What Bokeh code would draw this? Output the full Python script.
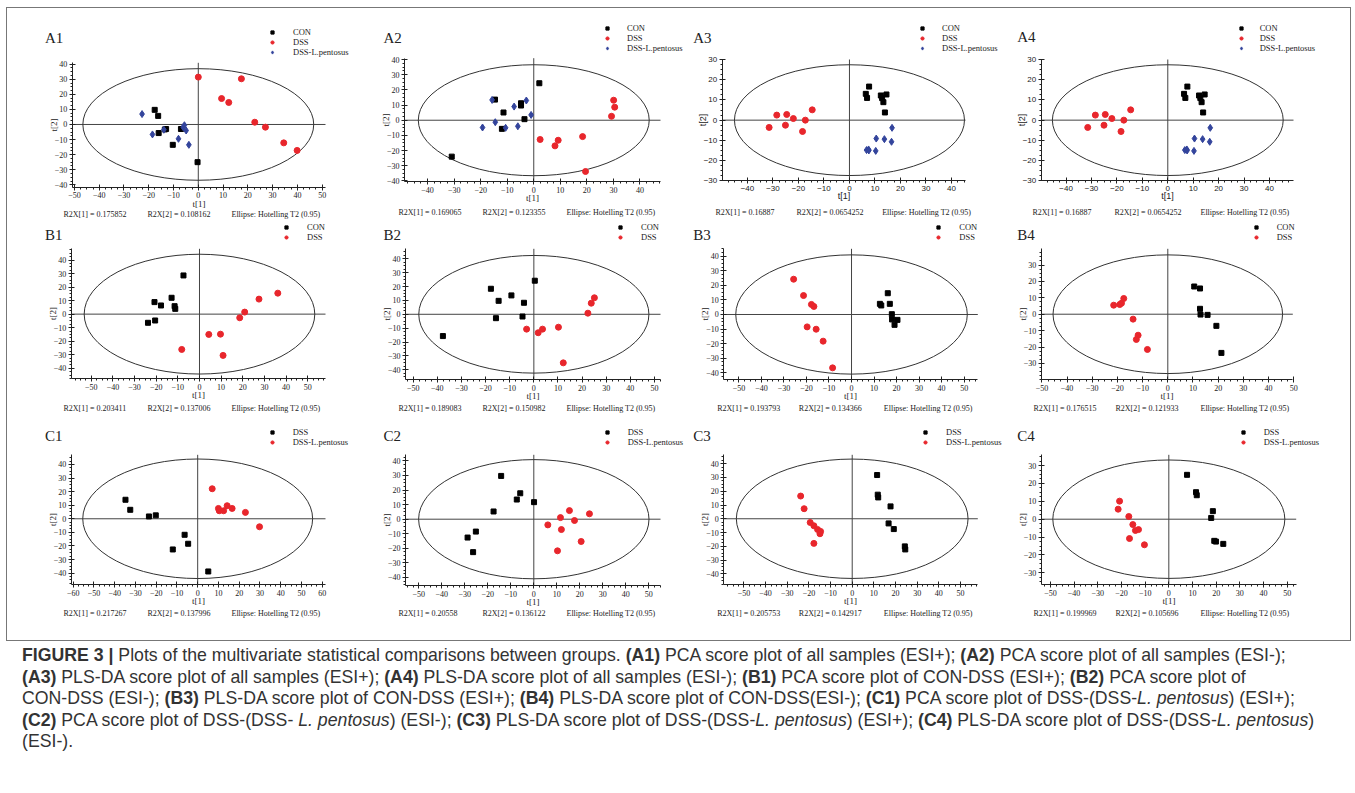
from bokeh.plotting import figure
from bokeh.models import Range1d, FixedTicker, Label, Legend, LegendItem, Div
from bokeh.layouts import row, column
from bokeh.embed import file_html
from bokeh.resources import INLINE

# ---------------- data ----------------
A1_con_x = [-17.6, -16.2, -16.0, -13.5, -13.0, -7.0, -10.3, -0.3]
A1_con_y = [9.7, 5.7, -5.7, -3.3, -3.0, -3.0, -13.5, -25.0]
A1_dss_x = [0.0, 17.4, 9.4, 12.3, 22.8, 27.1, 34.5, 39.9]
A1_dss_y = [31.4, 30.3, 17.2, 14.6, 1.5, -1.8, -12.2, -17.2]
A1_lp_x = [-22.7, -18.5, -13.9, -6.1, -5.6, -4.9, -8.0, -3.8]
A1_lp_y = [6.9, -6.6, -3.5, -1.8, -0.5, -4.0, -9.5, -13.5]

A2_con_x = [2.1, -14.6, -4.8, -4.8, -11.4, -3.5, -12.0, -30.9]
A2_con_y = [24.4, 13.6, 11.2, 9.7, 5.1, 0.7, -5.7, -24.0]
A2_dss_x = [30.1, 30.5, 29.3, 2.4, 9.2, 8.0, 18.4, 19.5]
A2_dss_y = [13.2, 8.6, 2.6, -12.7, -13.2, -16.9, -10.8, -33.8]
A2_lp_x = [-15.7, -2.8, -7.4, -1.0, -14.5, -19.3, -10.6, -6.0]
A2_lp_y = [13.4, 13.0, 9.0, 3.5, -1.3, -4.8, -5.0, -4.0]

A3_con_x = [6.4, 6.9, 7.7, 12.3, 12.8, 13.3, 14.5, 13.9]
A3_con_y = [13.0, 11.0, 16.6, 12.2, 10.9, 8.9, 12.7, 3.8]
A3_dss_x = [-31.5, -28.5, -24.6, -25.1, -22.0, -18.4, -17.3, -14.6]
A3_dss_y = [-3.6, 2.5, 2.8, -2.5, 0.8, -5.6, 0.0, 5.1]
A3_lp_x = [16.7, 10.5, 13.7, 16.5, 6.7, 7.5, 7.6, 10.3]
A3_lp_y = [-3.8, -9.1, -9.4, -10.7, -14.8, -14.5, -15.0, -15.2]

A4_con_x = [6.4, 6.9, 7.7, 12.3, 12.8, 13.3, 14.5, 13.9]
A4_con_y = [13.0, 11.0, 16.6, 12.2, 10.9, 8.9, 12.7, 3.8]
A4_dss_x = [-31.5, -28.5, -24.6, -25.1, -22.0, -18.4, -17.3, -14.6]
A4_dss_y = [-3.6, 2.5, 2.8, -2.5, 0.8, -5.6, 0.0, 5.1]
A4_lp_x = [16.7, 10.5, 13.7, 16.5, 6.7, 7.5, 7.6, 10.3]
A4_lp_y = [-3.8, -9.1, -9.4, -10.7, -14.8, -14.5, -15.0, -15.2]

B1_con_x = [-7.4, -12.9, -20.8, -17.8, -11.5, -11.2, -23.8, -20.5]
B1_con_y = [28.6, 12.1, 8.9, 6.4, 5.9, 3.9, -6.4, -4.7]
B1_dss_x = [36.2, 27.5, 20.9, 18.6, 4.3, 9.7, 10.9, -8.2]
B1_dss_y = [15.5, 11.1, 1.5, -2.7, -15.0, -14.8, -30.5, -26.1]

B2_con_x = [0.4, -17.8, -9.3, -14.6, -4.1, -4.7, -15.7, -37.7]
B2_con_y = [24.2, 18.4, 13.6, 9.7, 8.3, -1.6, -2.8, -15.7]
B2_dss_x = [25.1, 23.8, 22.4, -3.0, 1.8, 3.6, 10.2, 12.2]
B2_dss_y = [11.9, 8.0, 0.8, -10.7, -13.3, -10.7, -9.3, -35.0]

B3_con_x = [16.1, 12.6, 13.2, 17.0, 17.9, 18.0, 20.4, 19.1]
B3_con_y = [14.6, 7.3, 6.2, 7.3, 0.2, -3.4, -3.7, -7.1]
B3_dss_x = [-25.7, -21.3, -17.8, -16.7, -19.7, -15.7, -12.6, -8.4]
B3_dss_y = [24.2, 13.0, 6.9, 5.5, -8.5, -10.1, -18.3, -36.6]

B4_con_x = [10.5, 12.8, 12.8, 13.0, 15.8, 19.3, 21.3]
B4_con_y = [16.9, 15.7, 3.3, -0.2, -0.4, -7.1, -23.6]
B4_dss_x = [-21.5, -19.1, -18.4, -17.5, -13.8, -11.8, -12.5, -8.1]
B4_dss_y = [5.5, 5.9, 6.7, 9.6, -3.0, -12.8, -15.4, -21.5]

C1_dss_x = [-34.8, -32.5, -23.5, -20.2, -6.3, -4.6, -12.0, 5.1]
C1_dss_y = [14.0, 6.6, 1.7, 2.5, -11.8, -18.4, -22.6, -38.8]
C1_lp_x = [7.0, 10.0, 10.4, 12.5, 14.2, 16.6, 23.0, 29.8]
C1_lp_y = [22.1, 7.6, 5.9, 5.9, 9.6, 7.6, 4.7, -5.9]

C2_dss_x = [-14.2, -5.9, -7.4, 0.1, -17.5, -25.2, -28.8, -26.4]
C2_dss_y = [29.7, 17.8, 13.5, 11.7, 5.3, -8.5, -12.6, -22.6]
C2_lp_x = [15.5, 24.2, 11.6, 17.7, 6.1, 12.0, 20.6, 10.3]
C2_lp_y = [5.9, 3.7, 1.1, -0.9, -3.9, -7.1, -15.3, -21.7]

C3_dss_x = [11.5, 11.8, 12.0, 17.7, 16.8, 19.2, 24.3, 24.5]
C3_dss_y = [31.8, 17.5, 15.5, 9.0, -3.4, -7.5, -20.1, -22.3]
C3_lp_x = [-23.8, -22.2, -19.4, -17.7, -16.0, -14.6, -14.9, -17.7]
C3_lp_y = [16.5, 7.3, -2.7, -5.1, -7.8, -9.2, -10.9, -17.9]

C4_dss_x = [7.7, 11.5, 11.8, 18.6, 17.9, 19.2, 19.9, 23.0]
C4_dss_y = [24.8, 15.1, 13.4, 4.5, 0.7, -12.1, -12.5, -13.8]
C4_lp_x = [-20.8, -21.4, -16.9, -15.2, -14.1, -12.8, -16.6, -10.3]
C4_lp_y = [10.1, 5.6, 1.5, -3.0, -6.3, -5.8, -10.8, -14.3]

PANELS = ["A1", "A2", "A3", "A4", "B1", "B2", "B3", "B4", "C1", "C2", "C3", "C4"]
R2X_1 = [0.175852, 0.169065, 0.16887, 0.16887, 0.203411, 0.189083, 0.193793, 0.176515,
         0.217267, 0.20558, 0.205753, 0.199969]
R2X_2 = [0.108162, 0.123355, 0.0654252, 0.0654252, 0.137006, 0.150982, 0.134366, 0.121933,
         0.137996, 0.136122, 0.142917, 0.105696]
# Hotelling T2 (0.95) ellipse semi-axes
ELL_A = [46.6, 43.5, 45.1, 45.4, 53.3, 47.7, 51.4, 45.6, 55.4, 50.1, 53.5, 49.0]
ELL_B = [37.0, 36.6, 27.4, 27.4, 44.3, 42.4, 40.9, 36.2, 44.0, 40.9, 43.4, 33.1]

X_TICKS = {
    "A1": [-50, -40, -30, -20, -10, 0, 10, 20, 30, 40, 50],
    "A2": [-40, -30, -20, -10, 0, 10, 20, 30, 40],
    "A3": [-40, -30, -20, -10, 0, 10, 20, 30, 40],
    "A4": [-40, -30, -20, -10, 0, 10, 20, 30, 40],
    "B1": [-50, -40, -30, -20, -10, 0, 10, 20, 30, 40, 50],
    "B2": [-50, -40, -30, -20, -10, 0, 10, 20, 30, 40, 50],
    "B3": [-50, -40, -30, -20, -10, 0, 10, 20, 30, 40, 50],
    "B4": [-50, -40, -30, -20, -10, 0, 10, 20, 30, 40, 50],
    "C1": [-60, -50, -40, -30, -20, -10, 0, 10, 20, 30, 40, 50, 60],
    "C2": [-50, -40, -30, -20, -10, 0, 10, 20, 30, 40, 50],
    "C3": [-50, -40, -30, -20, -10, 0, 10, 20, 30, 40, 50],
    "C4": [-50, -40, -30, -20, -10, 0, 10, 20, 30, 40, 50],
}
Y_TICKS = {
    "A1": [-40, -30, -20, -10, 0, 10, 20, 30, 40],
    "A2": [-40, -30, -20, -10, 0, 10, 20, 30, 40],
    "A3": [-30, -20, -10, 0, 10, 20, 30],
    "A4": [-30, -20, -10, 0, 10, 20, 30],
    "B1": [-40, -30, -20, -10, 0, 10, 20, 30, 40],
    "B2": [-40, -30, -20, -10, 0, 10, 20, 30, 40],
    "B3": [-40, -30, -20, -10, 0, 10, 20, 30, 40],
    "B4": [-30, -20, -10, 0, 10, 20, 30],
    "C1": [-40, -30, -20, -10, 0, 10, 20, 30, 40],
    "C2": [-40, -30, -20, -10, 0, 10, 20, 30, 40],
    "C3": [-40, -30, -20, -10, 0, 10, 20, 30, 40],
    "C4": [-30, -20, -10, 0, 10, 20, 30],
}

GROUPS = {
    "A1": [("CON", A1_con_x, A1_con_y), ("DSS", A1_dss_x, A1_dss_y), ("DSS-L.pentosus", A1_lp_x, A1_lp_y)],
    "A2": [("CON", A2_con_x, A2_con_y), ("DSS", A2_dss_x, A2_dss_y), ("DSS-L.pentosus", A2_lp_x, A2_lp_y)],
    "A3": [("CON", A3_con_x, A3_con_y), ("DSS", A3_dss_x, A3_dss_y), ("DSS-L.pentosus", A3_lp_x, A3_lp_y)],
    "A4": [("CON", A4_con_x, A4_con_y), ("DSS", A4_dss_x, A4_dss_y), ("DSS-L.pentosus", A4_lp_x, A4_lp_y)],
    "B1": [("CON", B1_con_x, B1_con_y), ("DSS", B1_dss_x, B1_dss_y)],
    "B2": [("CON", B2_con_x, B2_con_y), ("DSS", B2_dss_x, B2_dss_y)],
    "B3": [("CON", B3_con_x, B3_con_y), ("DSS", B3_dss_x, B3_dss_y)],
    "B4": [("CON", B4_con_x, B4_con_y), ("DSS", B4_dss_x, B4_dss_y)],
    "C1": [("DSS", C1_dss_x, C1_dss_y), ("DSS-L.pentosus", C1_lp_x, C1_lp_y)],
    "C2": [("DSS", C2_dss_x, C2_dss_y), ("DSS-L.pentosus", C2_lp_x, C2_lp_y)],
    "C3": [("DSS", C3_dss_x, C3_dss_y), ("DSS-L.pentosus", C3_lp_x, C3_lp_y)],
    "C4": [("DSS", C4_dss_x, C4_dss_y), ("DSS-L.pentosus", C4_lp_x, C4_lp_y)],
}

CAPTION_LINES = [
    "<b>FIGURE 3 |</b> Plots of the multivariate statistical comparisons between groups. <b>(A1)</b> PCA score plot of all samples (ESI+); <b>(A2)</b> PCA score plot of all samples (ESI-);",
    "<b>(A3)</b> PLS-DA score plot of all samples (ESI+); <b>(A4)</b> PLS-DA score plot of all samples (ESI-); <b>(B1)</b> PCA score plot of CON-DSS (ESI+); <b>(B2)</b> PCA score plot of",
    "CON-DSS (ESI-); <b>(B3)</b> PLS-DA score plot of CON-DSS (ESI+); <b>(B4)</b> PLS-DA score plot of CON-DSS(ESI-); <b>(C1)</b> PCA score plot of DSS-(DSS-<i>L. pentosus</i>) (ESI+);",
    "<b>(C2)</b> PCA score plot of DSS-(DSS- <i>L. pentosus</i>) (ESI-); <b>(C3)</b> PLS-DA score plot of DSS-(DSS-<i>L. pentosus</i>) (ESI+); <b>(C4)</b> PLS-DA score plot of DSS-(DSS-<i>L. pentosus</i>)",
    "(ESI-).",
]

# ---------------- layout / style ----------------
RED = "#e8262c"
BLUE = "#33449c"
SERIF = "Liberation Serif"
SANS = "Liberation Sans"
INK = "#222222"

COL_X0 = [7, 362, 686, 1005]
COL_W = [355, 324, 319, 345]
ROW_Y0 = [8, 221, 420]
ROW_H = [213, 199, 220]

# page geometry of each panel: axis box (L, R, T, B) in px, its data extents, label anchors
# leg = (marker x, text x, vertical middle of the legend)
GEOM = {
    "A1": dict(box=(71.7, 325, 62.3, 186.7), xr=(-50.9, 51.35), yr=(-41.6, 40.9), title=(44.5, 37), stx=(63, 147, 231), sty=214, leg=(272, 293, 43)),
    "A2": dict(box=(404, 660, 57.7, 181), xr=(-48.7, 47.75), yr=(-40.4, 40.9), title=(383, 37), stx=(398, 482, 566), sty=211.7, leg=(607, 627, 38.5)),
    "A3": dict(box=(721.7, 965, 59, 180.3), xr=(-49.9, 45.5), yr=(-30, 30), title=(692.7, 37), stx=(715, 796, 881.7), sty=211.7, leg=(922, 942, 38.3)),
    "A4": dict(box=(1040.7, 1293, 59, 180.3), xr=(-49.8, 49.45), yr=(-30, 30), title=(1016.7, 36.7), stx=(1032, 1114, 1200), sty=211.7, leg=(1240.7, 1260, 38.3)),
    "B1": dict(box=(70.7, 325, 248.3, 378.3), xr=(-59.3, 58.25), yr=(-47.8, 48.3), title=(44.5, 234.3), stx=(63, 147, 231), sty=408.3, leg=(286, 306.7, 232.8)),
    "B2": dict(box=(405, 660, 248.3, 379), xr=(-53.2, 52.5), yr=(-47, 47.2), title=(383, 234.3), stx=(398, 482, 566), sty=408.3, leg=(620, 641, 232.8)),
    "B3": dict(box=(723.3, 977.3, 248.3, 379.3), xr=(-56.7, 56.06), yr=(-44.8, 45.06), title=(692.7, 234.3), stx=(716.7, 798.3, 883.3), sty=408.3, leg=(938.3, 959.3, 232.8)),
    "B4": dict(box=(1040.7, 1292.3, 248.3, 379.3), xr=(-50.3, 49.66), yr=(-40, 39.9), title=(1016.7, 234.3), stx=(1033, 1115, 1200), sty=408.3, leg=(1255.7, 1276.7, 232.8)),
    "C1": dict(box=(70.7, 325, 454.3, 584), xr=(-60.96, 61.6), yr=(-48.4, 47.1), title=(44.5, 435.7), stx=(63, 147, 231), sty=613.3, leg=(271.7, 292.3, 437.5)),
    "C2": dict(box=(405, 660, 454.3, 585), xr=(-55.8, 55.1), yr=(-45.5, 44.2), title=(383, 435.7), stx=(398, 482, 566), sty=613.3, leg=(606.7, 627.3, 437.5)),
    "C3": dict(box=(723.3, 977.3, 454.3, 584), xr=(-59.3, 58), yr=(-47.8, 46.5), title=(692.7, 435.7), stx=(716.7, 798.3, 883.3), sty=613.3, leg=(925, 945.7, 437.5)),
    "C4": dict(box=(1040.7, 1295.7, 454.3, 584), xr=(-53.9, 53.8), yr=(-36.5, 36), title=(1016.7, 435.7), stx=(1033, 1115, 1200), sty=613.3, leg=(1242.7, 1263.7, 437.5)),
}
LEG_FONT = 8.5
LEG_ROW = 9.5  # rendered height of one legend row at LEG_FONT


def marker_style(panel, label):
    if panel.startswith("C"):
        if label == "DSS":
            return dict(marker="square", size=5, color="black")
        return dict(marker="circle", size=6, color=RED)
    if label == "CON":
        return dict(marker="square", size=5, color="black")
    if label == "DSS":
        return dict(marker="circle", size=6, color=RED)
    return dict(marker="diamond", size=7, color=BLUE)


def minor_list(lo, hi, step=2.5):
    out = []
    v = (int(lo / step) - 1) * step
    while v <= hi:
        if lo <= v <= hi:
            out.append(round(v, 3))
        v += step
    return out


def make_panel(i, name):
    ci = i % 4
    ri = i // 4
    g = GEOM[name]
    x0c, wc = COL_X0[ci], COL_W[ci]
    y0c, hc = ROW_Y0[ri], ROW_H[ri]
    L, R, T, B = g["box"]
    bx0, bx1 = g["xr"]
    by0, by1 = g["yr"]
    ux = (bx1 - bx0) / (R - L)
    uy = (by1 - by0) / (B - T)
    # the whole canvas is the frame; the axis box is placed inside it
    xr = (bx0 - (L - x0c) * ux, bx1 + (x0c + wc - R) * ux)
    yr = (by0 - (y0c + hc - B) * uy, by1 + (T - y0c) * uy)

    def to_data(ax, ay):
        return (xr[0] + (ax - x0c) * ux, yr[0] + (y0c + hc - ay) * uy)

    p = figure(width=wc, height=hc, x_range=Range1d(*xr), y_range=Range1d(*yr),
               output_backend="svg", toolbar_location=None, title=None,
               min_border_left=0, min_border_right=0, min_border_top=0, min_border_bottom=0,
               outline_line_color=None, background_fill_color="white", border_fill_color="white")
    p.grid.visible = False

    tick_font = SANS if name in ("A3", "A4") else SERIF
    for ax in (p.xaxis[0], p.yaxis[0]):
        ax.axis_line_color = INK
        ax.major_tick_line_color = INK
        ax.minor_tick_line_color = INK
        ax.major_tick_in = 3
        ax.major_tick_out = 3
        ax.minor_tick_in = 0
        ax.minor_tick_out = 2
        ax.major_label_text_font = tick_font
        ax.major_label_text_font_size = "8px"
        ax.major_label_text_color = INK
        ax.major_label_standoff = 2
        ax.axis_label_text_font = tick_font
        ax.axis_label_text_font_size = "9px"
        ax.axis_label_text_font_style = "normal"
        ax.axis_label_text_color = INK
    xa, ya = p.xaxis[0], p.yaxis[0]
    xa.fixed_location = by0
    ya.fixed_location = bx0
    xa.bounds = (bx0, bx1)
    ya.bounds = (by0, by1)
    xa.axis_label_standoff = -3
    ya.axis_label_standoff = -7
    xa.ticker = FixedTicker(ticks=X_TICKS[name], minor_ticks=minor_list(bx0, bx1))
    ya.ticker = FixedTicker(ticks=Y_TICKS[name], minor_ticks=minor_list(by0, by1))
    xa.axis_label = "t[1]"
    ya.axis_label = "t[2]"

    # zero cross lines across the axis box
    p.segment(x0=[0, bx0], y0=[by0, 0], x1=[0, bx1], y1=[by1, 0], line_color="#444444", line_width=1)
    p.ellipse(x=[0], y=[0], width=[2 * ELL_A[i]], height=[2 * ELL_B[i]],
              fill_color=None, line_color="#333333", line_width=1)

    items = []
    for label, xs, ys in GROUPS[name]:
        st = marker_style(name, label)
        r = p.scatter(xs, ys, marker=st["marker"], size=st["size"],
                      fill_color=st["color"], line_color=st["color"])
        items.append(LegendItem(label=label, renderers=[r]))

    mx, tx, mid = g["leg"]
    n = len(items)
    glyph_w = 8
    leg_bottom = mid + n * LEG_ROW / 2
    legend = Legend(items=items, location=(mx - glyph_w / 2 - x0c, y0c + hc - leg_bottom),
                    orientation="vertical", border_line_color=None, background_fill_alpha=0,
                    padding=0, margin=0, spacing=0, glyph_width=glyph_w, glyph_height=8,
                    label_height=8, label_standoff=int(round(tx - (mx - glyph_w / 2) - glyph_w)),
                    label_text_font=SERIF, label_text_font_size=f"{LEG_FONT}px",
                    label_text_line_height=0.85, label_text_color=INK)
    p.add_layout(legend)

    tx0, ty0 = to_data(*g["title"])
    p.add_layout(Label(x=tx0, y=ty0, text=name, text_font=SERIF, text_font_size="15px",
                       text_color=INK, text_align="left", text_baseline="middle"))
    texts = [f"R2X[1] = {R2X_1[i]}", f"R2X[2] = {R2X_2[i]}", "Ellipse: Hotelling T2 (0.95)"]
    for sx, t in zip(g["stx"], texts):
        dx, dy = to_data(sx, g["sty"])
        p.add_layout(Label(x=dx, y=dy, text=t, text_font=SERIF, text_font_size="8px",
                           text_color=INK, text_align="left", text_baseline="middle"))
    return p


figs = [make_panel(i, n) for i, n in enumerate(PANELS)]
rows = [row(*figs[k * 4:(k + 1) * 4], spacing=0) for k in range(3)]
grid = column(*rows, spacing=0, margin=(8, 5, 0, 7),
              styles={"outline": "1px solid #777777"})

caption_html = (
    "<div style=\"font-family:'Liberation Sans'; font-size:17.7px; line-height:21.6px; color:#333333; white-space:nowrap;\">"
    + "<br>".join(CAPTION_LINES)
    + "</div>"
)
caption = Div(text=caption_html, width=1325, height=120, margin=(5, 0, 0, 22))

page = column(grid, caption, spacing=0)

with open("out.html", "w") as f:
    f.write(file_html(page, INLINE))
